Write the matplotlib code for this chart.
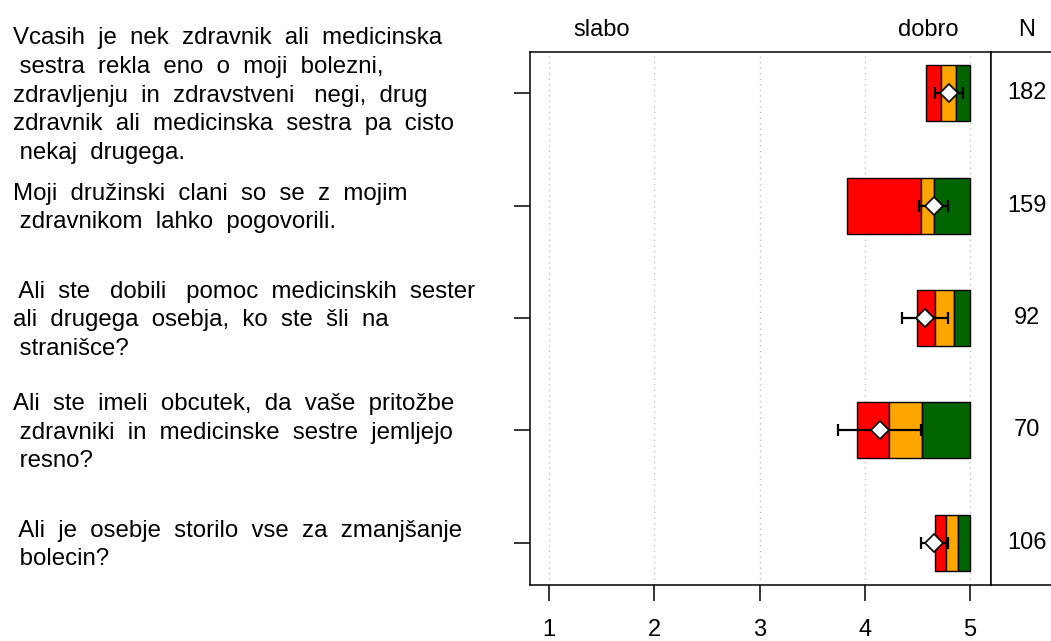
import numpy as np
import matplotlib
matplotlib.use("Agg")
import matplotlib.pyplot as plt
from matplotlib import transforms

plt.rcParams['font.family'] = ['Liberation Sans', 'DejaVu Sans']

# question texts (as wrapped in the original)
questions = [
    "Vcasih  je  nek  zdravnik  ali  medicinska\n sestra  rekla  eno  o  moji  bolezni,\nzdravljenju  in  zdravstveni   negi,  drug\nzdravnik  ali  medicinska  sestra  pa  cisto\n nekaj  drugega.",
    "Moji  družinski  clani  so  se  z  mojim\n zdravnikom  lahko  pogovorili.",
    " Ali  ste   dobili   pomoc  medicinskih  sester\nali  drugega  osebja,  ko  ste  šli  na\n stranišce?",
    "Ali  ste  imeli  obcutek,  da  vaše  pritožbe\n zdravniki  in  medicinske  sestre  jemljejo\n resno?",
    " Ali  je  osebje  storilo  vse  za  zmanjšanje\n bolecin?",
]

# box segments: left edge, median, upper quartile, max
q1 = np.array([4.58, 3.83, 4.50, 3.93, 4.67])
med = np.array([4.72, 4.53, 4.67, 4.23, 4.77])
q3 = np.array([4.87, 4.66, 4.85, 4.54, 4.89])
q_max = np.array([5.0, 5.0, 5.0, 5.0, 5.0])

# mean with confidence interval
mean = np.array([4.80, 4.66, 4.57, 4.14, 4.66])
ci_lo = np.array([4.67, 4.52, 4.35, 3.75, 4.53])
ci_hi = np.array([4.93, 4.79, 4.79, 4.53, 4.79])

n_resp = [182, 159, 92, 70, 106]

x_ticks = [1, 2, 3, 4, 5]

W, H = 1051, 641
fig = plt.figure(figsize=(W / 100, H / 100), dpi=100)

left, right, top, bottom = 529.7, 991, 52, 584.7
ax = fig.add_axes([left / W, (H - bottom) / H, (right - left) / W, (bottom - top) / H])

rows = np.arange(1, len(questions) + 1)

ax.barh(rows, med - q1, left=q1, height=0.5, color="#FF0000", edgecolor="black", linewidth=1, zorder=2)
ax.barh(rows, q3 - med, left=med, height=0.5, color="#FFA500", edgecolor="black", linewidth=1, zorder=2)
ax.barh(rows, q_max - q3, left=q3, height=0.5, color="#006400", edgecolor="black", linewidth=1, zorder=2)

ax.errorbar(mean, rows, xerr=[mean - ci_lo, ci_hi - mean], fmt="none",
            ecolor="black", elinewidth=1.6, capsize=4.5, capthick=1.6, zorder=3)
ax.plot(mean, rows, linestyle="none", marker="D", markersize=9,
        markerfacecolor="white", markeredgecolor="black", markeredgewidth=1.2, zorder=4)

ax.set_xlim(0.814, 5.2)
ax.set_ylim(5.374, 0.632)
ax.set_xticks(x_ticks)
ax.set_xticklabels([str(t) for t in x_ticks])
ax.set_yticks(rows)
ax.set_yticklabels([])
ax.tick_params(axis="both", length=11.5, width=1.1, labelsize=17, pad=13)
ax.grid(axis="x", linestyle=(0, (1, 3)), color="#BEBEBE", linewidth=1)
ax.set_axisbelow(True)
for s in ax.spines.values():
    s.set_linewidth(1.1)

# N column to the right
ax2 = fig.add_axes([right / W, (H - bottom) / H, 0.1, (bottom - top) / H])
ax2.set_ylim(ax.get_ylim())
ax2.set_xticks([])
ax2.set_yticks([])
for s in ax2.spines.values():
    s.set_linewidth(1.1)

trans_fig_data = transforms.blended_transform_factory(fig.transFigure, ax.transData)
for r, q, n in zip(rows, questions, n_resp):
    fig.text(13 / W, r + 0.02, q, transform=trans_fig_data, ha="left", va="center",
             fontsize=17.3, linespacing=1.39)
    fig.text(1027 / W, r, str(n), transform=trans_fig_data, ha="center", va="center",
             fontsize=17)

trans_data_fig = transforms.blended_transform_factory(ax.transData, fig.transFigure)
fig.text(1.5, (H - 36) / H, "slabo", transform=trans_data_fig, ha="center", va="baseline", fontsize=17)
fig.text(4.6, (H - 36) / H, "dobro", transform=trans_data_fig, ha="center", va="baseline", fontsize=17)
fig.text(1027 / W, (H - 36) / H, "N", ha="center", va="baseline", fontsize=17)

fig.savefig("out.png", dpi=100)
